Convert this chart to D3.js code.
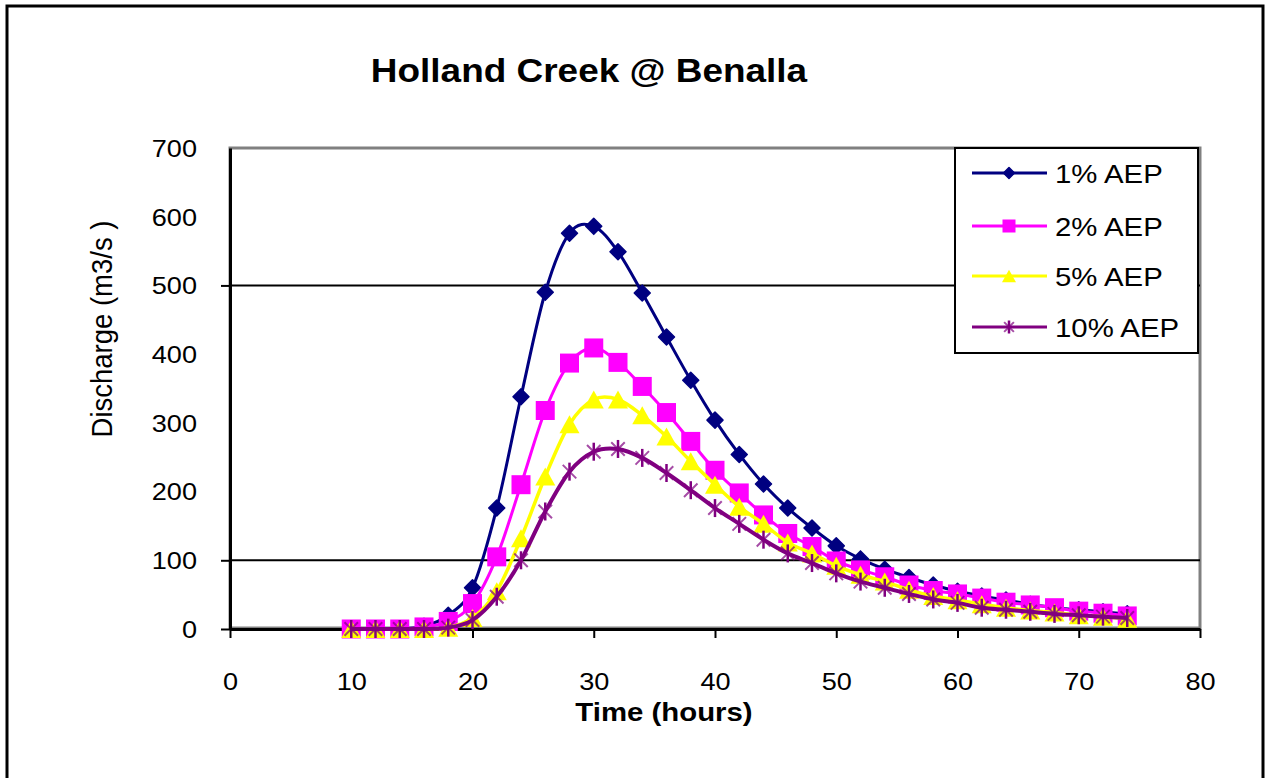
<!DOCTYPE html>
<html>
<head>
<meta charset="utf-8">
<script src="https://cdn.jsdelivr.net/npm/d3@7"></script>
<style>
  body { margin: 0; background: #fff; }
  svg { display: block; }
  text { font-family: "Liberation Sans", Arial, sans-serif; fill: #000; }
</style>
</head>
<body>
<svg id="chart" width="1269" height="778"></svg>
<script>
// Flood hydrographs, Holland Creek at Benalla
const hours = [10, 12, 14, 16, 18, 20, 22, 24, 26, 28, 30, 32, 34, 36, 38, 40, 42,
               44, 46, 48, 50, 52, 54, 56, 58, 60, 62, 64, 66, 68, 70, 72, 74];
const aep1  = [0, 0, 0, 4, 20, 60, 176, 338, 490, 576, 586, 549, 489, 425, 362, 304, 254,
               211, 176, 147, 121, 102, 87, 75, 64, 55, 48, 42, 36, 31, 28, 25, 22];
const aep2  = [0, 0, 0, 3, 11, 37, 105, 210, 318, 387, 409, 388, 353, 315, 273, 231, 198,
               166, 139, 120, 99, 86, 76, 64, 56, 51, 45, 39, 35, 31, 26, 23, 19];
const aep5  = [0, 0, 0, 0, 2, 16, 55, 132, 222, 298, 334, 334, 311, 280, 244, 210, 178,
               153, 126, 110, 92, 79, 69, 57, 48, 42, 36, 31, 27, 24, 20, 18, 15];
const aep10 = [0, 0, 0, 0, 2, 13, 47, 100, 171, 229, 258, 262, 249, 227, 202, 176, 153,
               130, 110, 96, 81, 69, 60, 51, 43, 38, 31, 28, 25, 22, 20, 18, 16];
const seriesNames = ["1% AEP", "2% AEP", "5% AEP", "10% AEP"];
const xTickValues = [0, 10, 20, 30, 40, 50, 60, 70, 80];
const yTickValues = [0, 100, 200, 300, 400, 500, 600, 700];
const gridValues = [100, 500];
const yMajorTicks = [0, 100, 500];

const series = [
  { name: seriesNames[0], values: aep1,  color: "#000080", marker: "diamond",  width: 3 },
  { name: seriesNames[1], values: aep2,  color: "#ff00ff", marker: "square",   width: 3 },
  { name: seriesNames[2], values: aep5,  color: "#ffff00", marker: "triangle", width: 3.5 },
  { name: seriesNames[3], values: aep10, color: "#800080", marker: "star",     width: 4 }
];

const svg = d3.select("#chart");
const SX = 1.13; // horizontal widening of the lettering

// widen a text element horizontally about its own anchor point
function widen(sel, k) {
  sel.each(function () {
    const t = d3.select(this);
    const x = +t.attr("x") || 0, y = +t.attr("y") || 0;
    t.attr("transform", `translate(${x},${y}) scale(${k},1) translate(${-x},${-y})`);
  });
}

// outer chart frame
svg.append("rect").attr("x", 7).attr("y", 6).attr("width", 1256).attr("height", 800)
  .attr("fill", "#fff").attr("stroke", "#000").attr("stroke-width", 3);

const plot = { left: 230, right: 1200, top: 148, bottom: 629 };
const x = d3.scaleLinear().domain([0, 80]).range([plot.left, plot.right]);
const y = d3.scaleLinear().domain([0, 700]).range([plot.bottom, plot.top]);

// plot area border (grey)
svg.append("rect").attr("x", plot.left).attr("y", plot.top)
  .attr("width", plot.right - plot.left).attr("height", plot.bottom - plot.top - 1)
  .attr("fill", "#fff").attr("stroke", "#808080").attr("stroke-width", 3);

// horizontal gridlines
svg.append("g").selectAll("line").data(gridValues).join("line")
  .attr("x1", plot.left).attr("x2", plot.right)
  .attr("y1", d => y(d)).attr("y2", d => y(d))
  .attr("stroke", "#000").attr("stroke-width", 2);

// title
svg.append("text").attr("x", 589).attr("y", 82).attr("text-anchor", "middle")
  .attr("font-size", 33).attr("font-weight", "bold").text("Holland Creek @ Benalla")
  .call(widen, 1.12);

// x axis
const gx = svg.append("g").attr("transform", `translate(0,${plot.bottom})`)
  .call(d3.axisBottom(x).tickValues(xTickValues).tickSize(9).tickSizeOuter(0).tickFormat(d3.format("d")));
gx.select(".domain").attr("stroke", "#000").attr("stroke-width", 3);
gx.selectAll(".tick line").attr("stroke", "#000").attr("stroke-width", 2);
gx.selectAll(".tick text").attr("y", 61).attr("dy", null)
  .attr("font-size", 24).attr("font-family", "Liberation Sans, Arial, sans-serif").attr("fill", "#000")
  .call(widen, SX);

// y axis: labels at every hundred, tick marks at the gridline values
const gyLab = svg.append("g").attr("transform", `translate(${plot.left},0)`)
  .call(d3.axisLeft(y).tickValues(yTickValues).tickSize(0).tickPadding(33).tickFormat(d3.format("d")));
gyLab.select(".domain").remove();
gyLab.selectAll(".tick text").attr("font-size", 24).attr("font-family", "Liberation Sans, Arial, sans-serif")
  .attr("fill", "#000").attr("dy", "0.35em")
  .each(function () {
    const t = d3.select(this);
    const xx = +t.attr("x");
    t.attr("transform", `translate(${xx},0) scale(${SX},1) translate(${-xx},0)`);
  });

const gyTick = svg.append("g").attr("transform", `translate(${plot.left},0)`)
  .call(d3.axisLeft(y).tickValues(yMajorTicks).tickSize(9).tickSizeOuter(0).tickFormat(""));
gyTick.select(".domain").attr("stroke", "#000").attr("stroke-width", 3);
gyTick.selectAll(".tick line").attr("stroke", "#000").attr("stroke-width", 2);

// axis titles
svg.append("text").attr("x", 664).attr("y", 721).attr("text-anchor", "middle")
  .attr("font-size", 26).attr("font-weight", "bold").text("Time (hours)")
  .call(widen, SX);
svg.append("text")
  .attr("transform", "translate(112,329) rotate(-90) scale(1,1.1)")
  .attr("text-anchor", "middle").attr("font-size", 27.5)
  .text("Discharge (m3/s )");

// marker shapes
function drawMarker(g, type, color, size) {
  if (type === "diamond") {
    const r = size / 2;
    g.append("path").attr("d", `M0,${-r}L${r},0L0,${r}L${-r},0Z`).attr("fill", color)
      .attr("stroke", color).attr("stroke-width", 1.5).attr("stroke-linejoin", "round");
  } else if (type === "square") {
    g.append("rect").attr("x", -size / 2).attr("y", -size / 2)
      .attr("width", size).attr("height", size).attr("fill", color);
  } else if (type === "triangle") {
    const h = size * 0.9, w = size / 2;
    g.append("path").attr("d", `M0,${-h / 2}L${w},${h / 2}L${-w},${h / 2}Z`).attr("fill", color);
  } else if (type === "star") {
    const r = size / 2, d = r * 0.75;
    g.append("path").attr("d", `M0,${-r}L0,${r}`).attr("stroke", color).attr("stroke-width", 2.5);
    g.append("path").attr("d", `M${-d},${-d}L${d},${d}M${d},${-d}L${-d},${d}`)
      .attr("stroke", color).attr("stroke-width", 2).attr("stroke-opacity", 0.7);
  }
}

const markerSize = { diamond: 16, square: 19, triangle: 20, star: 18 };
const line = d3.line().x(d => x(d[0])).y(d => y(d[1])).curve(d3.curveCatmullRom.alpha(0));

series.forEach(s => {
  const pts = hours.map((h, i) => [h, s.values[i]]);
  const g = svg.append("g");
  g.append("path").datum(pts).attr("d", line).attr("fill", "none")
    .attr("stroke", s.color).attr("stroke-width", s.width).attr("stroke-linejoin", "round");
  g.selectAll("g.mk").data(pts).join("g").attr("class", "mk")
    .attr("transform", d => `translate(${x(d[0])},${y(d[1])})`)
    .each(function () { drawMarker(d3.select(this), s.marker, s.color, markerSize[s.marker]); });
});

// legend
const lg = svg.append("g");
lg.append("rect").attr("x", 955).attr("y", 148).attr("width", 243).attr("height", 205)
  .attr("fill", "#fff").attr("stroke", "#000").attr("stroke-width", 2);
const legendRows = [173, 226, 276, 327];
const legendMarker = { diamond: 11, square: 13, triangle: 14, star: 13 };
series.forEach((s, i) => {
  const yy = legendRows[i];
  lg.append("line").attr("x1", 972).attr("x2", 1047).attr("y1", yy).attr("y2", yy)
    .attr("stroke", s.color).attr("stroke-width", 3);
  const m = lg.append("g").attr("transform", `translate(1009,${yy})`);
  drawMarker(m, s.marker, s.color, legendMarker[s.marker]);
  lg.append("text").attr("x", 1055).attr("y", yy + 10).attr("font-size", 26).text(s.name)
    .call(widen, SX);
});
</script>
</body>
</html>
